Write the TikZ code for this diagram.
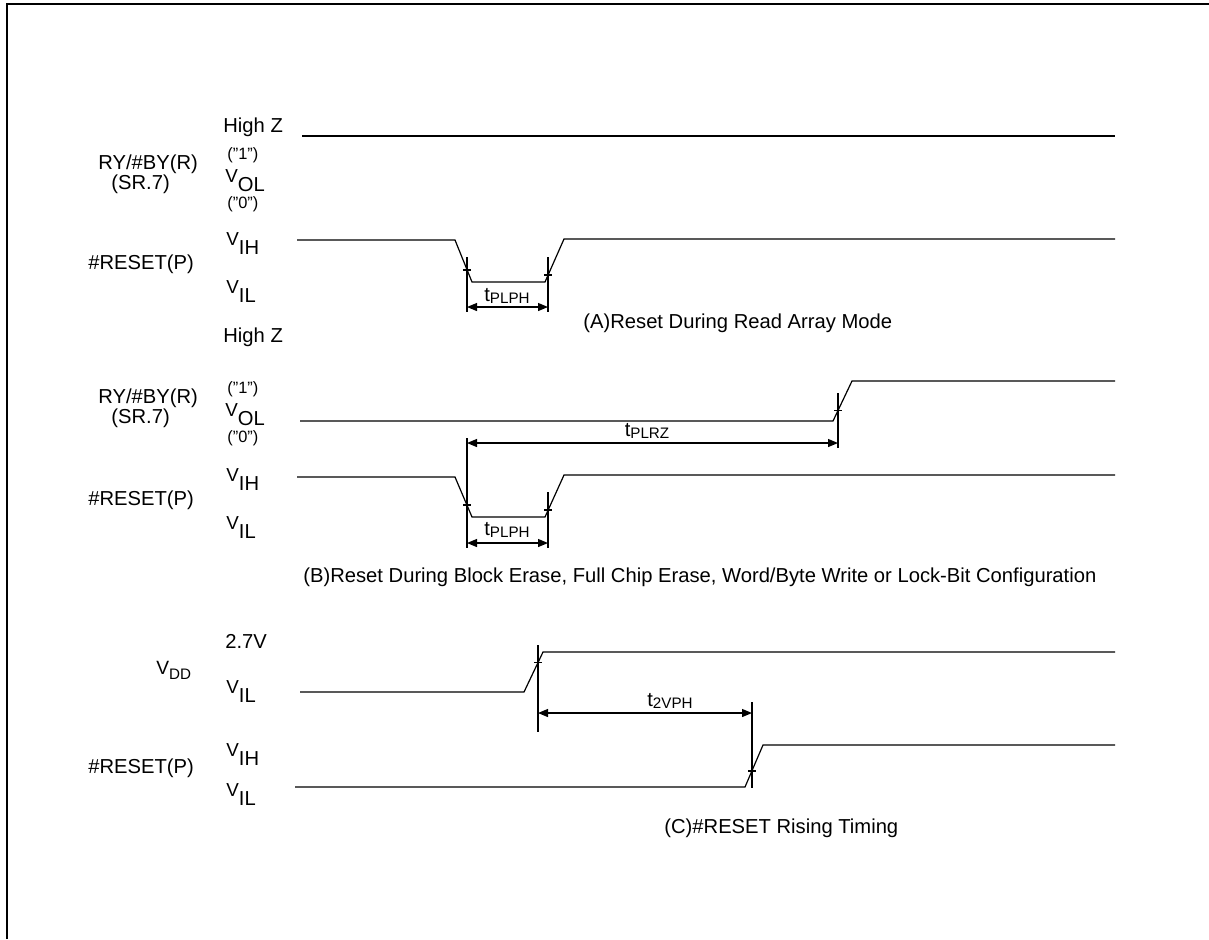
\documentclass[tikz,border=0pt]{standalone}
\usepackage{fontspec}
\setmainfont{Liberation Sans}
\usetikzlibrary{arrows.meta}
\newcommand\lv[1]{{\fontsize{9.4}{10}\selectfont V}\raisebox{-4.6pt}{\fontsize{10.1}{12}\selectfont #1}}
\newcommand\vsm[1]{{\fontsize{9.6}{10}\selectfont V}\raisebox{-2.5pt}{\fontsize{7.6}{9}\selectfont #1}}
\newcommand\tsub[1]{{\fontsize{10.1}{12}\selectfont t}\raisebox{-1.2pt}{\fontsize{7.6}{9}\selectfont #1}}
\begin{document}
\begin{tikzpicture}[x=0.5pt,y=-0.5pt,
  wave/.style={line width=0.6pt},
  mk/.style={line width=0.6pt},
  dim/.style={line width=0.6pt,{Triangle[length=5pt,width=4pt]}-{Triangle[length=5pt,width=4pt]}},
  lbl/.style={inner sep=0pt,font=\fontsize{10.1}{12}\selectfont},
  sml/.style={inner sep=0pt,font=\fontsize{8.2}{9}\selectfont},
  vl/.style={inner sep=0pt,anchor=north west}]
\useasboundingbox (0,0) rectangle (1209,939);
\draw[line width=1pt] (7,939) -- (7,4) -- (1209,4);

% ---------------- Section A ----------------
\node[lbl,anchor=west] (aHZ) at (223,127) {High Z};
\node[sml,anchor=west] (a1) at (227,155) {("1")};
\node[lbl,anchor=west] (aRY) at (98,164) {RY/\#BY(R)};
\node[lbl,anchor=west] (aSR) at (111,184) {(SR.7)};
\node[vl] (aVOL) at (225,169) {\lv{OL}};
\node[sml,anchor=west] (a0) at (227,204) {("0")};
\node[vl] (aVIH) at (226,232) {\lv{IH}};
\node[lbl,anchor=west] (aRS) at (88,264) {\#RESET(P)};
\node[vl] (aVIL) at (226,280) {\lv{IL}};

\draw[wave] (302,136) -- (1115,136);
\draw[wave] (297,240) -- (455,240) -- (472,282) -- (545,282) -- (564,239) -- (1115,239);
\coordinate (aL1) at (467,257); \coordinate (aL2) at (467,312);
\coordinate (aR1) at (548,257); \coordinate (aR2) at (548,312);
\draw[mk] (aL1) -- (aL2); \draw[mk] (aR1) -- (aR2);
\draw[mk] (463,270) -- (471,270);
\draw[mk] (544,275) -- (552,275);
\draw[dim] (467,307) -- (548,307);
\node[lbl] (aT) at (507,296) {\tsub{PLPH}};
\node[lbl,anchor=west] (aCap) at (583,323) {(A)Reset During Read Array Mode};

% ---------------- Section B ----------------
\node[lbl,anchor=west] (bHZ) at (223,337) {High Z};
\node[sml,anchor=west] (b1) at (227,389) {("1")};
\node[lbl,anchor=west] (bRY) at (98,398) {RY/\#BY(R)};
\node[lbl,anchor=west] (bSR) at (111,418) {(SR.7)};
\node[vl] (bVOL) at (225,403) {\lv{OL}};
\node[sml,anchor=west] (b0) at (227,438) {("0")};
\node[vl] (bVIH) at (226,468) {\lv{IH}};
\node[lbl,anchor=west] (bRS) at (88,500) {\#RESET(P)};
\node[vl] (bVIL) at (226,516) {\lv{IL}};

\draw[wave] (300,421) -- (833,421) -- (852,381) -- (1115,381);
\draw[wave] (297,477) -- (455,477) -- (472,517) -- (545,517) -- (564,475) -- (1115,475);
\draw[mk] (838,393) -- (838,448);
\draw[mk] (834,410.5) -- (842,410.5);
\draw[mk] (467,438) -- (467,548);
\draw[mk] (548,492) -- (548,548);
\draw[mk] (463,505) -- (471,505);
\draw[mk] (544,510) -- (552,510);
\draw[dim] (467,443) -- (838,443);
\node[lbl] (bT1) at (647,431) {\tsub{PLRZ}};
\draw[dim] (467,543) -- (548,543);
\node[lbl] (bT2) at (507,530) {\tsub{PLPH}};
\node[lbl,anchor=west] (bCap) at (303,577) {(B)Reset During Block Erase, Full Chip Erase, Word/Byte Write or Lock-Bit Configuration};

% ---------------- Section C ----------------
\node[lbl,anchor=west] (c27) at (225,641) {2.7V};
\node[vl] (cVDD) at (156,661) {\vsm{DD}};
\node[vl] (cVIL1) at (226,680) {\lv{IL}};
\node[vl] (cVIH) at (226,743) {\lv{IH}};
\node[lbl,anchor=west] (cRS) at (88,768) {\#RESET(P)};
\node[vl] (cVIL2) at (226,783) {\lv{IL}};

\draw[wave] (300,692) -- (524,692) -- (543,652) -- (1115,652);
\draw[wave] (295,787) -- (745,787) -- (763,745) -- (1115,745);
\draw[mk] (538,645) -- (538,732);
\draw[mk] (534,662.5) -- (542,662.5);
\draw[mk] (752,702) -- (752,788);
\draw[mk] (748,771) -- (756,771);
\draw[dim] (538,713) -- (752,713);
\node[lbl] (cT) at (670,701) {\tsub{2VPH}};
\node[lbl,anchor=west] (cCap) at (664,828) {(C)\#RESET Rising Timing};
\end{tikzpicture}
\end{document}
